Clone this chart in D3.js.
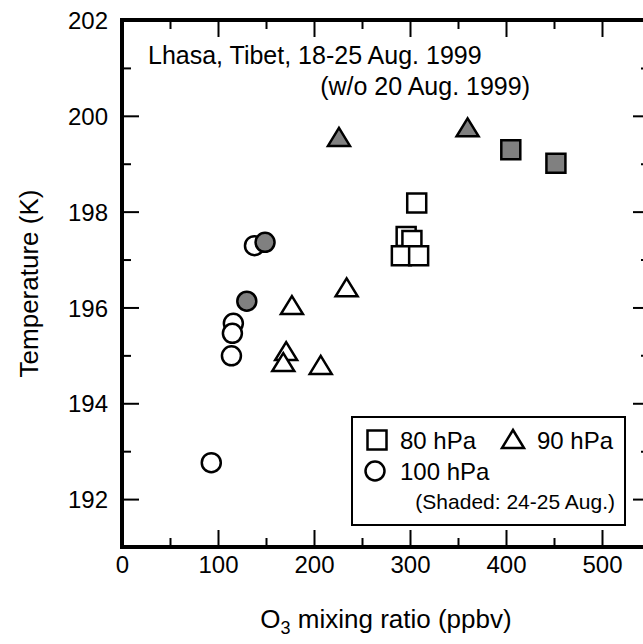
<!DOCTYPE html>
<html>
<head>
<meta charset="utf-8">
<script src="https://cdn.jsdelivr.net/npm/d3@7"></script>
<style>
  body { margin: 0; background: #fff; }
  svg { font-family: "Liberation Sans", Arial, sans-serif; }
</style>
</head>
<body>
<div id="chart"></div>
<script>
var svgWidth = 643;
var svgHeight = 644;

var margin = { top: 20, right: 0, bottom: 97, left: 122 };

// 80 hPa (squares)
var o3_80 = [307, 296, 302, 291, 309];
var t_80 = [198.18, 197.48, 197.40, 197.08, 197.08];
var o3_80s = [405, 452];
var t_80s = [199.29, 199.01];

// 90 hPa (triangles)
var o3_90 = [177, 234, 171, 168, 207];
var t_90 = [196.05, 196.42, 195.09, 194.86, 194.80];
var o3_90s = [226, 360];
var t_90s = [199.56, 199.76];

// 100 hPa (circles)
var o3_100 = [138, 116, 115, 114, 93];
var t_100 = [197.29, 195.67, 195.46, 194.99, 192.76];
var o3_100s = [149, 130];
var t_100s = [197.36, 196.13];

var xMajor = [0, 100, 200, 300, 400, 500];
var xMinor = [50, 150, 250, 350, 450, 550];
var yMajor = [192, 194, 196, 198, 200, 202];
var yMinor = [191, 193, 195, 197, 199, 201];

var width = 528;   // plot runs past the right edge of the window
var height = svgHeight - margin.top - margin.bottom;

var svg = d3.select("#chart")
    .append("svg")
    .attr("width", svgWidth)
    .attr("height", svgHeight);

var chartGroup = svg.append("g")
    .attr("transform", `translate(${margin.left}, ${margin.top})`);

var x = d3.scaleLinear().domain([0, 550]).range([0, width]);
var y = d3.scaleLinear().domain([191, 202]).range([height, 0]);

function drawAxis(axis, transform, values, size) {
    var g = chartGroup.append("g")
        .attr("transform", transform)
        .call(axis.tickValues(values).tickSizeInner(size).tickSizeOuter(0).tickPadding(8));
    g.select(".domain").remove();
    g.selectAll(".tick line").attr("stroke", "#000").attr("stroke-width", 2);
    return g;
}

// major + minor ticks on all four sides, pointing inward
var xb = drawAxis(d3.axisBottom(x), `translate(0, ${height})`, xMajor, -17);
xb.selectAll("text").attr("font-size", 24).attr("fill", "#000").attr("dy", "0.71em").attr("y", 9);
drawAxis(d3.axisBottom(x).tickFormat(""), `translate(0, ${height})`, xMinor, -9);
drawAxis(d3.axisTop(x).tickFormat(""), "translate(0,0)", xMajor, -17);
drawAxis(d3.axisTop(x).tickFormat(""), "translate(0,0)", xMinor, -9);

var yl = drawAxis(d3.axisLeft(y), "translate(0,0)", yMajor, -17);
yl.selectAll("text").attr("font-size", 24).attr("fill", "#000").attr("x", -14).attr("dy", "0.36em");
drawAxis(d3.axisLeft(y).tickFormat(""), "translate(0,0)", yMinor, -9);
drawAxis(d3.axisRight(y).tickFormat(""), `translate(${width}, 0)`, yMajor, -17);
drawAxis(d3.axisRight(y).tickFormat(""), `translate(${width}, 0)`, yMinor, -9);

// frame
chartGroup.append("rect")
    .attr("x", 0)
    .attr("y", 0)
    .attr("width", width)
    .attr("height", height)
    .attr("fill", "none")
    .attr("stroke", "#000")
    .attr("stroke-width", 4);

// marker shapes
function squarePath(s) {
    var h = s / 2;
    return `M${-h},${-h}H${h}V${h}H${-h}Z`;
}
function trianglePath(w, hgt) {
    return `M0,${-hgt / 2}L${w / 2},${hgt / 2}L${-w / 2},${hgt / 2}Z`;
}
function circlePath(r) {
    return d3.symbol().type(d3.symbolCircle).size(Math.PI * r * r)();
}

function drawPoints(xs, ys, path, fill) {
    chartGroup.append("g")
        .selectAll("path")
        .data(xs.map((v, i) => [v, ys[i]]))
        .enter()
        .append("path")
        .attr("d", path)
        .attr("transform", d => `translate(${x(d[0])}, ${y(d[1])})`)
        .attr("fill", fill)
        .attr("stroke", "#000")
        .attr("stroke-width", 2.5);
}

var sq = squarePath(19);
var tri = trianglePath(22, 18);
var circ = circlePath(9.5);

drawPoints(o3_80, t_80, sq, "#fff");
drawPoints(o3_80s, t_80s, sq, "#808080");
drawPoints(o3_90, t_90, tri, "#fff");
drawPoints(o3_90s, t_90s, tri, "#808080");
drawPoints(o3_100, t_100, circ, "#fff");
drawPoints(o3_100s, t_100s, circ, "#808080");

// annotation
svg.append("text")
    .attr("x", 148)
    .attr("y", 64)
    .attr("font-size", 25)
    .text("Lhasa, Tibet, 18-25 Aug. 1999");
svg.append("text")
    .attr("x", 530)
    .attr("y", 95)
    .attr("text-anchor", "end")
    .attr("font-size", 25)
    .text("(w/o 20 Aug. 1999)");

// legend
var legend = svg.append("g");
legend.append("rect")
    .attr("x", 352)
    .attr("y", 417)
    .attr("width", 273)
    .attr("height", 108)
    .attr("fill", "#fff")
    .attr("stroke", "#000")
    .attr("stroke-width", 2);
legend.append("path").attr("d", sq).attr("transform", "translate(377, 440)")
    .attr("fill", "#fff").attr("stroke", "#000").attr("stroke-width", 2.5);
legend.append("text").attr("x", 400).attr("y", 449).attr("font-size", 24).text("80 hPa");
legend.append("path").attr("d", tri).attr("transform", "translate(513, 439)")
    .attr("fill", "#fff").attr("stroke", "#000").attr("stroke-width", 2.5);
legend.append("text").attr("x", 537).attr("y", 449).attr("font-size", 24).text("90 hPa");
legend.append("path").attr("d", circ).attr("transform", "translate(375, 471)")
    .attr("fill", "#fff").attr("stroke", "#000").attr("stroke-width", 2.5);
legend.append("text").attr("x", 400).attr("y", 480).attr("font-size", 24).text("100 hPa");
legend.append("text").attr("x", 615).attr("y", 509).attr("text-anchor", "end")
    .attr("font-size", 21).text("(Shaded: 24-25 Aug.)");

// axis titles
var xt = svg.append("text")
    .attr("x", margin.left + width / 2)
    .attr("y", 628)
    .attr("text-anchor", "middle")
    .attr("font-size", 26);
xt.append("tspan").text("O");
xt.append("tspan").attr("font-size", 18).attr("dy", 6).text("3");
xt.append("tspan").attr("dy", -6).text(" mixing ratio (ppbv)");

svg.append("text")
    .attr("transform", `translate(38, ${margin.top + height / 2}) rotate(-90)`)
    .attr("text-anchor", "middle")
    .attr("font-size", 26)
    .text("Temperature (K)");
</script>
</body>
</html>
